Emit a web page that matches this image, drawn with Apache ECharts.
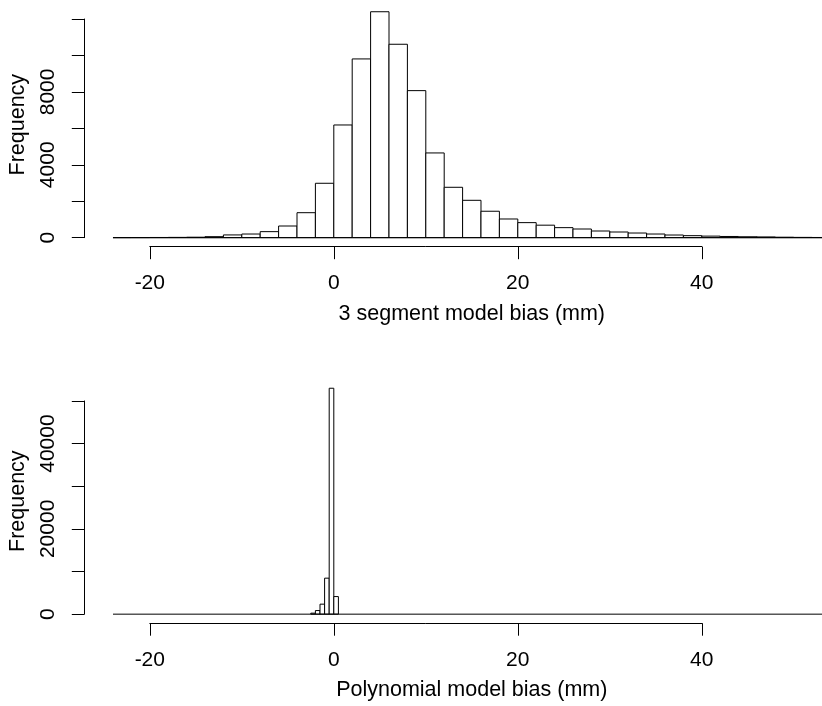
<!DOCTYPE html>
<html>
<head>
<meta charset="utf-8">
<script src="https://cdn.jsdelivr.net/npm/echarts@6/dist/echarts.min.js"></script>
<style>
  html, body { margin: 0; padding: 0; background: #fff; }
  #chart { width: 822px; height: 706px; }
</style>
</head>
<body>
<div id="chart"></div>
<script>
// ---- data ---------------------------------------------------------------
// 3 segment model: bins of 2 mm (left edges) and their counts
const segBinStart = [-24, -22, -20, -18, -16, -14, -12, -10, -8, -6, -4, -2,
                     0, 2, 4, 6, 8, 10, 12, 14, 16, 18, 20, 22, 24, 26, 28,
                     30, 32, 34, 36, 38, 40, 42, 44, 46, 48, 50, 52];
const segBinWidth = 2;
const segCounts = [4, 6, 10, 15, 25, 55, 150, 200, 330, 640, 1370, 2985,
                   6185, 9810, 12400, 10615, 8070, 4650, 2765, 2050, 1450, 1025, 825, 685, 550, 475, 365,
                   310, 255, 200, 145, 110, 85, 65, 50, 40, 25, 15, 10];

// Polynomial model: bins of 0.5 mm (left edges) and their counts
const polyBinStart = [-2.5, -2, -1.5, -1, -0.5, 0];
const polyBinWidth = 0.5;
const polyCounts = [235, 845, 2345, 8440, 52980, 4125];

// break range shared by both histograms (empty bins draw as a flat line)
const breakRange = [-24, 54];

// axis ticks and the tick labels that are printed
const xTicks = [-20, 0, 20, 40];
const segYTicks = [0, 2000, 4000, 6000, 8000, 10000, 12000];
const segYLabels = [0, 4000, 8000];
const polyYTicks = [0, 10000, 20000, 30000, 40000, 50000];
const polyYLabels = [0, 20000, 40000];

const segTitle = '3 segment model bias (mm)';
const polyTitle = 'Polynomial model bias (mm)';

// ---- layout -------------------------------------------------------------
const FONT = 'Liberation Sans, Arial, Helvetica, sans-serif';
const FS = 21;
const TITLE_FS = 21.5;
const PLOT_LEFT = 84.3;
const PLOT_WIDTH = 775;
const PLOT_HEIGHT = 244;
const TICK_LEN = 12.5;
const INK = '#000';

// usual 4% padding on each side of a data range
function padRange(lo, hi) {
  const d = (hi - lo) * 0.04;
  return [lo - d, hi + d];
}

const xUsr = padRange(breakRange[0], breakRange[1]);
function xPix(v) {
  return PLOT_LEFT + (v - xUsr[0]) / (xUsr[1] - xUsr[0]) * PLOT_WIDTH;
}

const grids = [], xAxes = [], yAxes = [], series = [];

function gridBox(box) {
  return Object.assign({ containLabel: false, outerBoundsMode: 'none' }, box);
}

function addPanel(top, starts, width, counts, yTicks, yLabels, title) {
  const yUsr = padRange(0, Math.max.apply(null, counts));
  const yPix = v => top + (yUsr[1] - v) / (yUsr[1] - yUsr[0]) * PLOT_HEIGHT;
  const g0 = grids.length;

  // plotting region
  grids.push(gridBox({ left: PLOT_LEFT, top: top, width: PLOT_WIDTH, height: PLOT_HEIGHT }));
  // strip holding the x axis (line runs from first to last tick)
  grids.push(gridBox({ left: xPix(xTicks[0]), width: xPix(xTicks[xTicks.length - 1]) - xPix(xTicks[0]),
                       top: top + PLOT_HEIGHT - 1, height: 1 }));
  // strip holding the y axis
  const yTop = yPix(yTicks[yTicks.length - 1]);
  grids.push(gridBox({ left: PLOT_LEFT, width: 1, top: yTop, height: yPix(0) - yTop }));

  const hidden = { show: false };
  const nameStyle = { fontFamily: FONT, fontSize: TITLE_FS, color: INK };

  // plotting region axes: carry scales and axis titles only
  xAxes.push({
    gridIndex: g0, type: 'value', min: xUsr[0], max: xUsr[1],
    axisLine: hidden, axisTick: hidden, axisLabel: hidden, splitLine: hidden,
    name: title, nameLocation: 'middle', nameGap: 56, nameTextStyle: nameStyle
  });
  yAxes.push({
    gridIndex: g0, type: 'value', min: yUsr[0], max: yUsr[1],
    axisLine: hidden, axisTick: hidden, axisLabel: hidden, splitLine: hidden,
    name: 'Frequency', nameLocation: 'middle', nameGap: 55, nameRotate: 90,
    nameTextStyle: nameStyle
  });

  // x axis strip
  xAxes.push({
    gridIndex: g0 + 1, type: 'value', position: 'bottom',
    min: xTicks[0], max: xTicks[xTicks.length - 1], interval: xTicks[1] - xTicks[0],
    axisLine: { show: true, lineStyle: { color: INK, width: 1 } },
    axisTick: { show: true, length: TICK_LEN, lineStyle: { color: INK, width: 1 } },
    axisLabel: { show: true, margin: 26.5, fontFamily: FONT, fontSize: FS, color: INK },
    splitLine: hidden
  });
  yAxes.push({ gridIndex: g0 + 1, type: 'value', show: false });

  // y axis strip
  xAxes.push({ gridIndex: g0 + 2, type: 'value', show: false });
  yAxes.push({
    gridIndex: g0 + 2, type: 'value', position: 'left',
    min: yTicks[0], max: yTicks[yTicks.length - 1], interval: yTicks[1] - yTicks[0],
    axisLine: { show: true, lineStyle: { color: INK, width: 1 } },
    axisTick: { show: true, length: TICK_LEN, lineStyle: { color: INK, width: 1 } },
    axisLabel: {
      show: true, rotate: 90, margin: 26, fontFamily: FONT, fontSize: FS, color: INK,
      formatter: v => (yLabels.indexOf(v) >= 0 ? String(v) : '')
    },
    splitLine: hidden
  });

  // empty bins across the whole break range
  series.push({
    type: 'line', xAxisIndex: g0, yAxisIndex: g0, silent: true,
    data: [[breakRange[0], 0], [breakRange[1], 0]],
    symbol: 'none', lineStyle: { color: INK, width: 1 }
  });

  // histogram bars
  series.push({
    type: 'custom', xAxisIndex: g0, yAxisIndex: g0, silent: true,
    data: starts.map((s, i) => [s, s + width, counts[i]]),
    encode: { x: [0, 1], y: 2 },
    renderItem: function (params, api) {
      const p0 = api.coord([api.value(0), api.value(2)]);
      const p1 = api.coord([api.value(1), 0]);
      return {
        type: 'rect',
        shape: { x: p0[0], y: p0[1], width: p1[0] - p0[0], height: p1[1] - p0[1] },
        style: { fill: '#fff', stroke: INK, lineWidth: 1 }
      };
    }
  });
}

addPanel(2.7, segBinStart, segBinWidth, segCounts, segYTicks, segYLabels, segTitle);
addPanel(379.2, polyBinStart, polyBinWidth, polyCounts, polyYTicks, polyYLabels, polyTitle);

const chart = echarts.init(document.getElementById('chart'), null, { renderer: 'canvas' });
chart.setOption({
  animation: false,
  backgroundColor: '#fff',
  grid: grids,
  xAxis: xAxes,
  yAxis: yAxes,
  series: series
});
</script>
</body>
</html>
